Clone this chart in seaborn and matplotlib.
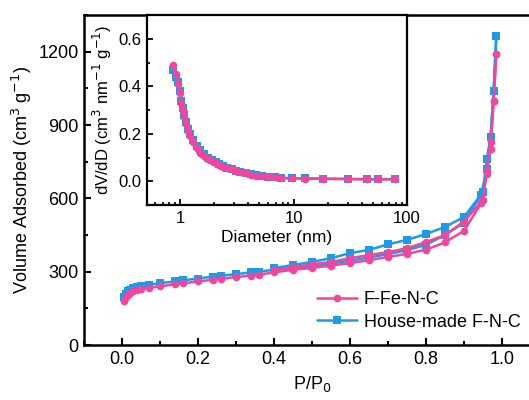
import matplotlib
matplotlib.use("Agg")
import matplotlib.pyplot as plt
import seaborn as sns
import numpy as np
import pandas as pd
from matplotlib.ticker import MultipleLocator, LogLocator, NullFormatter

sns.set_style("ticks")
plt.rcParams['font.family'] = ['Liberation Sans', 'DejaVu Sans']
plt.rcParams['axes.edgecolor'] = 'black'
plt.rcParams['xtick.color'] = 'black'
plt.rcParams['ytick.color'] = 'black'
plt.rcParams['text.color'] = 'black'
plt.rcParams['axes.labelcolor'] = 'black'

PINK = "#F0469E"
BLUE = "#1E9BE6"

# Isotherm data
p_ads = [0.005, 0.01, 0.015, 0.02, 0.03, 0.04, 0.05, 0.07, 0.1, 0.14, 0.16, 0.2, 0.24,
         0.26, 0.3, 0.34, 0.36, 0.40, 0.45, 0.50, 0.55, 0.60, 0.65, 0.70, 0.75, 0.80,
         0.85, 0.90, 0.945, 0.96, 0.97, 0.978, 0.985]
fe_ads = [178, 195, 205, 212, 220, 225, 229, 234, 240, 248, 252, 260, 267,
          270, 278, 284, 288, 297, 308, 315, 325, 335, 347, 360, 373, 390,
          420, 467, 580, 700, 800, 1000, 1190]
fn_ads = [195, 210, 220, 225, 232, 237, 240, 246, 253, 260, 264, 272, 280,
          283, 290, 297, 300, 308, 315, 323, 333, 345, 358, 372, 388, 410,
          450, 500, 614, 720, 850, 1040, 1264]
p_des = [0.985, 0.978, 0.97, 0.96, 0.95, 0.90, 0.85, 0.80, 0.75, 0.70, 0.65, 0.60,
         0.55, 0.50, 0.45, 0.40]
fe_des = [1190, 1000, 830, 710, 594, 505, 450, 421, 396, 380, 368, 355, 340, 330, 318, 305]
fn_des = [1264, 1040, 851, 760, 626, 524, 483, 454, 430, 412, 389, 376, 355, 340, 327, 315]

# Pore size distribution
diam = [0.87, 0.92, 0.96, 0.99, 1.02, 1.05, 1.08, 1.12, 1.17, 1.22, 1.3, 1.4, 1.5, 1.62,
        1.75, 1.9, 2.05, 2.2, 2.4, 2.6, 2.85, 3.1, 3.4, 3.8, 4.2, 4.7, 5.3, 6.0, 6.8,
        7.8, 9.6, 12.7, 18, 30, 44, 56, 79]
fe_psd = [0.49, 0.45, 0.41, 0.37, 0.33, 0.30, 0.27, 0.24, 0.21, 0.19, 0.165, 0.14, 0.12,
          0.105, 0.095, 0.085, 0.077, 0.07, 0.062, 0.056, 0.05, 0.044, 0.038, 0.033,
          0.028, 0.024, 0.021, 0.018, 0.016, 0.014, 0.012, 0.011, 0.01, 0.009, 0.008,
          0.008, 0.008]
fn_psd = [0.47, 0.44, 0.42, 0.38, 0.34, 0.31, 0.28, 0.25, 0.22, 0.20, 0.175, 0.15, 0.13,
          0.115, 0.10, 0.09, 0.08, 0.072, 0.064, 0.057, 0.05, 0.044, 0.038, 0.033,
          0.029, 0.025, 0.022, 0.019, 0.017, 0.015, 0.013, 0.012, 0.011, 0.01, 0.009,
          0.009, 0.009]

labels = ["F-Fe-N-C", "House-made F-N-C"]

fig = plt.figure(figsize=(5.29, 4.00), dpi=100)
ax = fig.add_axes([84/529, 55/400, 456/529, 330/400])

lw = 1.8
ms = 5.5
# isotherms
for p, v, c, m, lab in [(p_ads, fn_ads, BLUE, "s", labels[1]), (p_ads, fe_ads, PINK, "o", labels[0])]:
    sns.lineplot(x=p, y=v, ax=ax, color=c, marker=m, markersize=ms, linewidth=lw,
                 markeredgewidth=0, sort=False, estimator=None, label=lab)
for p, v, c, m in [(p_des, fn_des, BLUE, "s"), (p_des, fe_des, PINK, "o")]:
    sns.lineplot(x=p, y=v, ax=ax, color=c, marker=m, markersize=ms, linewidth=lw,
                 markeredgewidth=0, sort=False, estimator=None, legend=False)

ax.set_xlim(-0.1, 1.1)
ax.set_ylim(0, 1350)
ax.xaxis.set_major_locator(MultipleLocator(0.2))
ax.xaxis.set_minor_locator(MultipleLocator(0.1))
ax.yaxis.set_major_locator(MultipleLocator(300))
ax.yaxis.set_minor_locator(MultipleLocator(150))
ax.set_xticks([0.0, 0.2, 0.4, 0.6, 0.8, 1.0])
ax.set_xticklabels(["0.0", "0.2", "0.4", "0.6", "0.8", "1.0"])
ax.tick_params(axis='both', which='major', direction='in', length=5, width=1.5, labelsize=13, pad=4)
ax.tick_params(axis='both', which='minor', direction='in', length=3, width=1.5)
for s in ax.spines.values():
    s.set_linewidth(1.8)
ax.set_xlabel("P/P$_0$", fontsize=13, labelpad=5)
ax.set_ylabel("Volume Adsorbed (cm$^3$ g$^{-1}$)", fontsize=13, labelpad=3)

handles, labs = ax.get_legend_handles_labels()
order = [labs.index(labels[0]), labs.index(labels[1])]
ax.legend([handles[i] for i in order], [labs[i] for i in order], frameon=False,
          fontsize=13, loc='upper left', bbox_to_anchor=(0.495, 0.185), handlelength=2.2,
          handletextpad=0.4, labelspacing=0.3, borderaxespad=0)

# inset
ins = fig.add_axes([147/529, 195/400, 260/529, 190/400])
sns.lineplot(x=diam, y=fn_psd, ax=ins, color=BLUE, marker="s", markersize=ms, linewidth=lw,
             markeredgewidth=0, sort=False, estimator=None, legend=False)
sns.lineplot(x=diam, y=fe_psd, ax=ins, color=PINK, marker="o", markersize=ms, linewidth=lw,
             markeredgewidth=0, sort=False, estimator=None, legend=False)
ins.set_xscale("log")
ins.set_xlim(0.51, 100)
ins.set_ylim(-0.1, 0.7)
ins.set_xticks([1, 10, 100])
ins.set_xticklabels(["1", "10", "100"])
ins.xaxis.set_minor_locator(LogLocator(base=10, subs=np.arange(2, 10)))
ins.xaxis.set_minor_formatter(NullFormatter())
ins.yaxis.set_major_locator(MultipleLocator(0.2))
ins.yaxis.set_minor_locator(MultipleLocator(0.1))
ins.set_yticks([0.0, 0.2, 0.4, 0.6])
ins.set_yticklabels(["0.0", "0.2", "0.4", "0.6"])
ins.tick_params(axis='both', which='major', direction='in', length=4, width=1.3, labelsize=12, pad=4)
ins.tick_params(axis='both', which='minor', direction='in', length=2.5, width=1.2)
for s in ins.spines.values():
    s.set_linewidth(1.6)
ins.set_xlabel("Diameter (nm)", fontsize=12.5, labelpad=3)
ins.set_ylabel("dV/dD (cm$^3$ nm$^{-1}$ g$^{-1}$)", fontsize=12, labelpad=3)

fig.savefig("out.png", dpi=100)
